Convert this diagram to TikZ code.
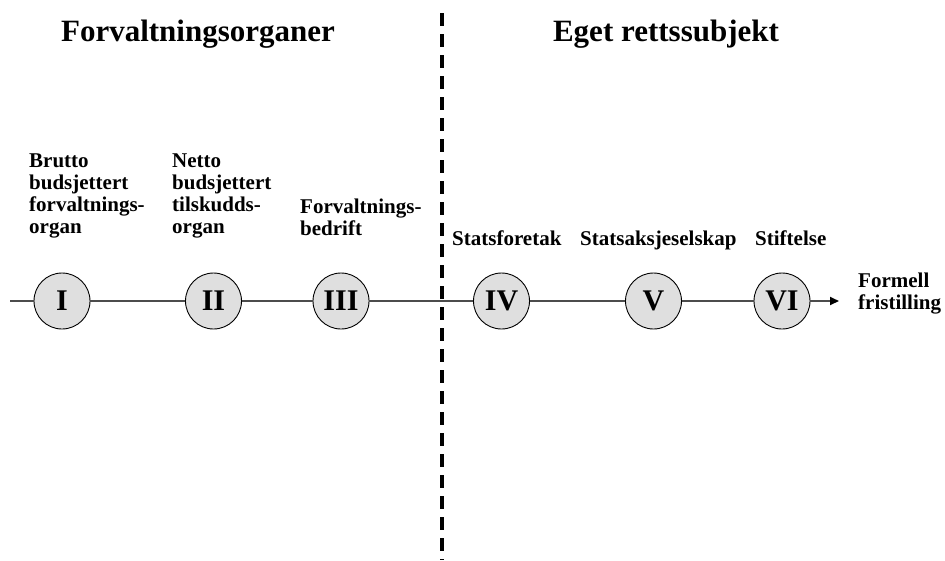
\documentclass[tikz,border=0pt]{standalone}
\usepackage{fontspec}
\setmainfont{Liberation Serif}
\usetikzlibrary{arrows.meta}
\tikzset{
  stage/.style={circle, draw=black, line width=0.9pt, fill=gray!25, minimum size=56pt, inner sep=0pt,
    font=\fontsize{30}{30}\selectfont\bfseries},
  lbl/.style={anchor=base west, inner sep=0pt, font=\fontsize{21}{22}\selectfont\bfseries},
  ttl/.style={anchor=base, inner sep=0pt, font=\fontsize{31}{31}\selectfont\bfseries},
  axis/.style={draw=black!70, line width=1.8pt},
  divider/.style={draw=black, line width=3.3pt, dash pattern=on 13pt off 8pt}
}
\newcommand{\stk}[1]{\begin{tabular}[t]{@{}l@{}}#1\end{tabular}}
\begin{document}
\begin{tikzpicture}[x=1pt,y=-1pt]
\useasboundingbox (0,0) rectangle (945,560);
% divider
\coordinate (dtop) at (442,13);
\coordinate (dbot) at (442,560);
\draw[divider] (dtop) -- (dbot);
% titles
\node[ttl] (t1) at (198,41) {Forvaltningsorganer};
\node[ttl] (t2) at (666,41) {Eget rettssubjekt};
% stages
\node[stage] (s1) at (62,301) {I};
\node[stage] (s2) at (213.5,301) {II};
\node[stage] (s3) at (341,301) {III};
\node[stage] (s4) at (501.5,301) {IV};
\node[stage] (s5) at (653.5,301) {V};
\node[stage] (s6) at (782,301) {VI};
\coordinate (start) at (10,301);
\coordinate (tip) at (839,301);
\draw[axis] (start) -- (s1);
\draw[axis] (s1) -- (s2);
\draw[axis] (s2) -- (s3);
\draw[axis] (s3) -- (s4);
\draw[axis] (s4) -- (s5);
\draw[axis] (s5) -- (s6);
\draw[axis, -{Triangle[length=9pt,width=8pt,color=black]}] (s6) -- (tip);
% labels
\node[lbl] (l1) at (29,167) {\stk{Brutto\\budsjettert\\forvaltnings-\\organ}};
\node[lbl] (l2) at (172,167) {\stk{Netto\\budsjettert\\tilskudds-\\organ}};
\node[lbl] (l3) at (300,213) {\stk{Forvaltnings-\\bedrift}};
\node[lbl] (l4) at (452,245) {Statsforetak};
\node[lbl] (l5) at (580,245) {Statsaksjeselskap};
\node[lbl] (l6) at (755,245) {Stiftelse};
\node[lbl] (l7) at (858,287) {\stk{Formell\\fristilling}};
\end{tikzpicture}
\end{document}
